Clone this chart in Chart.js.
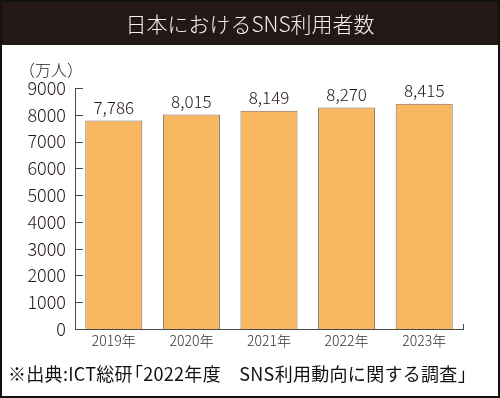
<!DOCTYPE html>
<html>
<head>
<meta charset="utf-8">
<script src="https://cdn.jsdelivr.net/npm/chart.js@4"></script>
<style>
  html, body { margin: 0; padding: 0; background: #fff; }
  #wrap { position: relative; width: 500px; height: 398px; overflow: hidden; background: #fff; }
  #frame { position: absolute; left: 0; top: 0; width: 496px; height: 394px; border: 2px solid #111; z-index: 3; pointer-events: none; }
  #band { position: absolute; left: 0; top: 0; width: 500px; height: 45px; background: #231815; z-index: 2; }
  #title { position: absolute; left: 0; top: 0; width: 500px; height: 46px; line-height: 46px; text-align: center; color: #f4f0ec; font-family: "Noto Sans CJK JP", sans-serif; font-size: 21px; font-weight: 300; z-index: 4; }
  #unit { position: absolute; left: 19px; top: 57px; font-family: "Noto Sans CJK JP", sans-serif; font-size: 16px; font-weight: 300; color: #231815; z-index: 4; }
  #note { position: absolute; left: 8px; top: 360px; font-family: "Noto Sans CJK JP", sans-serif; font-size: 18px; color: #111; white-space: nowrap; z-index: 4; letter-spacing: 0.3px; }
  #note .br { margin-left: -8px; }
  #c { position: absolute; left: 0; top: 0; z-index: 1; }
</style>
</head>
<body>
<div id="wrap">
  <div id="band"></div>
  <div id="title">日本におけるSNS利用者数</div>
  <div id="unit">（万人）</div>
  <canvas id="c" width="500" height="398"></canvas>
  <div id="note">※出典:ICT総研<span class="br">「</span>2022年度　SNS利用動向に関する調査」</div>
  <div id="frame"></div>
</div>
<script>
const categories = ["2019年", "2020年", "2021年", "2022年", "2023年"];
const users = [7786, 8015, 8149, 8270, 8415];
const yTicks = [0, 1000, 2000, 3000, 4000, 5000, 6000, 7000, 8000, 9000];

const axisColor = "#4a4a4a";
const font = "Noto Sans CJK JP";

const inwardTicks = {
  id: "inwardTicks",
  afterDraw(chart) {
    const ctx = chart.ctx;
    const y = chart.scales.y;
    const ca = chart.chartArea;
    ctx.save();
    ctx.strokeStyle = axisColor;
    ctx.lineWidth = 1;
    y.ticks.forEach(t => {
      const py = Math.round(y.getPixelForValue(t.value)) + 0.5;
      ctx.beginPath();
      ctx.moveTo(ca.left, py);
      ctx.lineTo(ca.left + 8, py);
      ctx.stroke();
    });
    ctx.beginPath();
    ctx.moveTo(Math.round(ca.right) + 0.5, ca.bottom);
    ctx.lineTo(Math.round(ca.right) + 0.5, ca.bottom - 5);
    ctx.stroke();
    ctx.restore();
  }
};

const valueLabels = {
  id: "valueLabels",
  afterDatasetsDraw(chart) {
    const ctx = chart.ctx;
    const meta = chart.getDatasetMeta(0);
    ctx.save();
    ctx.font = "300 17px '" + font + "'";
    ctx.fillStyle = "#231815";
    ctx.textAlign = "center";
    ctx.textBaseline = "middle";
    meta.data.forEach((bar, i) => {
      ctx.fillText(users[i].toLocaleString("en-US"), bar.x, bar.y - 13);
    });
    ctx.restore();
  }
};

new Chart(document.getElementById("c"), {
  type: "bar",
  data: {
    labels: categories,
    datasets: [{
      data: users,
      backgroundColor: "#f8b862",
      borderColor: "#7d6b5e",
      borderWidth: 1,
      barPercentage: 0.735,
      categoryPercentage: 1.0
    }]
  },
  options: {
    responsive: false,
    animation: false,
    events: [],
    layout: { padding: { left: 0, right: 37, top: 88, bottom: 39 } },
    plugins: { legend: { display: false }, tooltip: { enabled: false }, title: { display: false } },
    scales: {
      x: {
        grid: { display: false, drawTicks: false },
        border: { display: true, color: axisColor, width: 1 },
        ticks: { color: "#333", font: { family: font, size: 14, weight: 300 }, padding: 3 },
        afterFit(s) { s.height = 30; }
      },
      y: {
        min: 0, max: 9000,
        afterBuildTicks(s) { s.ticks = yTicks.map(v => ({ value: v })); },
        grid: { display: false, drawTicks: false },
        border: { display: true, color: axisColor, width: 1 },
        ticks: { color: "#231815", font: { family: font, size: 18, weight: 300 }, padding: 9, callback: v => String(v) },
        afterFit(s) { s.width = 75; }
      }
    }
  },
  plugins: [inwardTicks, valueLabels]
});
</script>
</body>
</html>
